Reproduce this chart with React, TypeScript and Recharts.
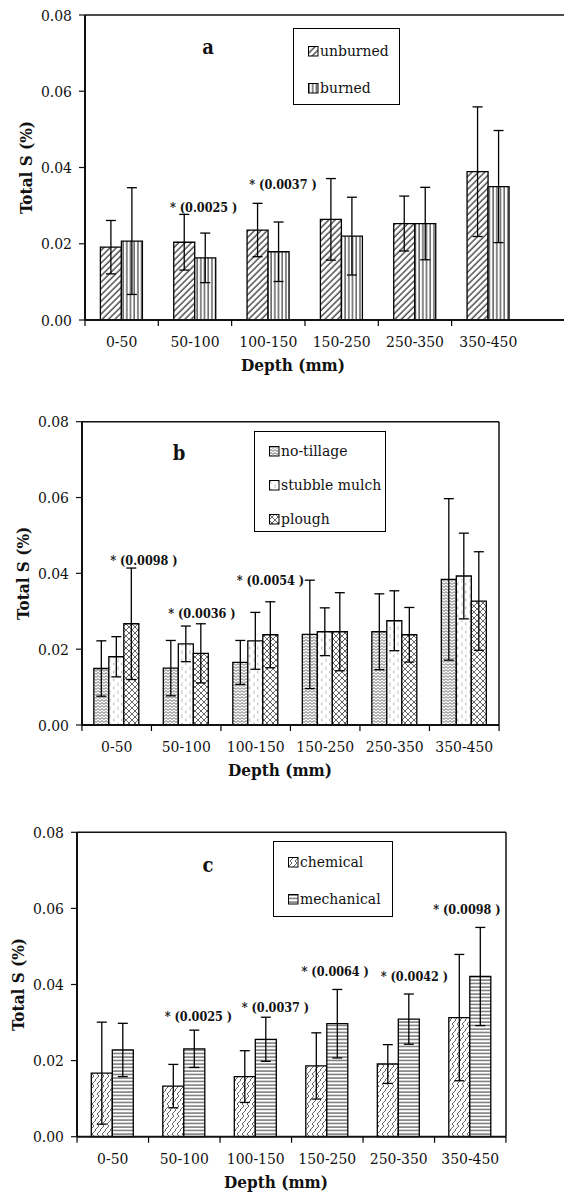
import React from "react";
import {
  BarChart,
  Bar,
  XAxis,
  YAxis,
  ErrorBar,
  ReferenceLine,
  ReferenceDot,
  Legend,
} from "recharts";

const depths = ["0-50", "50-100", "100-150", "150-250", "250-350", "350-450"];
const yTicks = [0, 0.02, 0.04, 0.06, 0.08];

// panel a
const unburned = [0.0191, 0.0204, 0.0236, 0.0264, 0.0253, 0.0389];
const unburnedErr = [0.007, 0.0073, 0.007, 0.0107, 0.0072, 0.017];
const burned = [0.0207, 0.0163, 0.0179, 0.022, 0.0253, 0.035];
const burnedErr = [0.014, 0.0065, 0.0078, 0.0102, 0.0095, 0.0147];

// panel b
const noTillage = [0.0149, 0.015, 0.0165, 0.0239, 0.0246, 0.0384];
const noTillageErr = [0.0073, 0.0073, 0.0058, 0.0143, 0.01, 0.0213];
const stubbleMulch = [0.018, 0.0214, 0.0222, 0.0246, 0.0275, 0.0393];
const stubbleMulchErr = [0.0053, 0.0047, 0.0075, 0.0063, 0.0079, 0.0113];
const plough = [0.0267, 0.0189, 0.0238, 0.0246, 0.0238, 0.0327];
const ploughErr = [0.0147, 0.0078, 0.0087, 0.0103, 0.0072, 0.013];

// panel c
const chemical = [0.0167, 0.0133, 0.0158, 0.0186, 0.0191, 0.0313];
const chemicalErr = [0.0134, 0.0057, 0.0068, 0.0087, 0.0051, 0.0166];
const mechanical = [0.0228, 0.0231, 0.0256, 0.0297, 0.0309, 0.0421];
const mechanicalErr = [0.007, 0.0049, 0.0058, 0.009, 0.0066, 0.0129];

// significance notes (depth, p value, height of the note)
const notesA = [
  { depth: "50-100", p: "0.0025", at: 0.0296 },
  { depth: "100-150", p: "0.0037", at: 0.0354 },
];
const notesB = [
  { depth: "0-50", p: "0.0098", at: 0.0433 },
  { depth: "50-100", p: "0.0036", at: 0.0293 },
  { depth: "100-150", p: "0.0054", at: 0.038 },
];
const notesC = [
  { depth: "50-100", p: "0.0025", at: 0.0315 },
  { depth: "100-150", p: "0.0037", at: 0.0338 },
  { depth: "150-250", p: "0.0064", at: 0.0434 },
  { depth: "250-350", p: "0.0042", at: 0.042 },
  { depth: "350-450", p: "0.0098", at: 0.0596 },
];

// only serif face available in the sandbox
const FONT = '"DejaVu Serif Condensed", "DejaVu Serif", serif';
const TXT = { fontFamily: FONT, fontStretch: "condensed" } as React.CSSProperties;

type Series = { key: string; name: string; values: number[]; errors: number[]; fill: string };

function rowsFor(series: Series[]) {
  return depths.map((d, i) => {
    const row: Record<string, any> = { depth: d };
    series.forEach((s) => {
      row[s.key] = s.values[i];
      row[s.key + "Err"] = s.errors[i];
    });
    return row;
  });
}

function Patterns() {
  return (
    <svg width={0} height={0} style={{ position: "absolute" }}>
      <defs>
        <pattern id="p-diag" patternUnits="userSpaceOnUse" width={4.5} height={4.5} patternTransform="rotate(45)">
          <rect width={4.5} height={4.5} fill="#fff" />
          <line x1={1} y1={0} x2={1} y2={4.5} stroke="#111" strokeWidth={1.1} />
        </pattern>
        <pattern id="p-vert" patternUnits="userSpaceOnUse" width={3.7} height={4}>
          <rect width={3.7} height={4} fill="#fff" />
          <line x1={1} y1={0} x2={1} y2={4} stroke="#111" strokeWidth={1} />
        </pattern>
        <pattern id="p-wave" patternUnits="userSpaceOnUse" width={4} height={3}>
          <rect width={4} height={3} fill="#fff" />
          <path d="M0,2.4 L2,0.6 L4,2.4" fill="none" stroke="#444" strokeWidth={0.8} />
        </pattern>
        <pattern id="p-dots" patternUnits="userSpaceOnUse" width={8} height={8}>
          <rect width={8} height={8} fill="#fff" />
          <path d="M2.5,0.8 L1.2,2 L2.5,3.2" fill="none" stroke="#888" strokeWidth={0.8} />
          <rect x={5.5} y={4.8} width={1} height={1} fill="#888" />
          <rect x={5.5} y={6.8} width={1} height={1} fill="#888" />
        </pattern>
        <pattern id="p-cross" patternUnits="userSpaceOnUse" width={6} height={6}>
          <rect width={6} height={6} fill="#fff" />
          <path d="M0,0 L6,6 M6,0 L0,6" stroke="#555" strokeWidth={0.9} />
        </pattern>
        <pattern id="p-weave" patternUnits="userSpaceOnUse" width={10} height={10}>
          <rect width={10} height={10} fill="#fff" />
          <path d="M0,10 L4,6 L2,4 L6,0 M5,10 L9,6 L7,4 L11,0 M-5,10 L-1,6 L-3,4 L1,0" fill="none" stroke="#555" strokeWidth={0.9} />
        </pattern>
        <pattern id="p-horiz" patternUnits="userSpaceOnUse" width={4} height={3.5}>
          <rect width={4} height={3.5} fill="#fff" />
          <line x1={0} y1={1} x2={4} y2={1} stroke="#333" strokeWidth={1} />
        </pattern>
      </defs>
    </svg>
  );
}

const makeXTick = (half: number, closeRight: boolean) => (props: any) => {
  const { x, y, payload, index } = props;
  const last = closeRight && index === depths.length - 1;
  return (
    <g>
      <line x1={x - half} x2={x - half} y1={y} y2={y + 6} stroke="#000" strokeWidth={1.2} />
      {last && <line x1={x + half} x2={x + half} y1={y} y2={y + 6} stroke="#000" strokeWidth={1.2} />}
      <text x={x} y={y + 27} textAnchor="middle" style={TXT} fontSize={15.5} fill="#111">
        {payload.value}
      </text>
    </g>
  );
};

function LegendBox({ series, width, height, gap, first }: { series: Series[]; width: number; height: number; gap: number; first: number }) {
  return (
    <div
      style={{
        width,
        height,
        boxSizing: "border-box",
        border: "1.3px solid #000",
        background: "#fff",
        position: "relative",
      }}
    >
      {series.map((s, i) => (
        <div
          key={s.key}
          style={{
            ...TXT,
            position: "absolute",
            left: 14,
            top: first + i * gap - 10,
            height: 20,
            display: "flex",
            alignItems: "center",
            fontSize: 15.5,
            color: "#111",
            whiteSpace: "nowrap",
          }}
        >
          <svg width={11} height={11} style={{ marginRight: 1 }}>
            <rect x={0.5} y={0.5} width={9.5} height={9.5} fill={s.fill} stroke="#000" strokeWidth={1} />
          </svg>
          {s.name}
        </div>
      ))}
    </div>
  );
}

type PanelProps = {
  letter: string;
  series: Series[];
  notes: { depth: string; p: string; at: number }[];
  noteShift: number[];
  top: number;
  height: number;
  margin: { top: number; right: number; bottom: number; left: number };
  yWidth: number;
  xHeight: number;
  xPadRight: number;
  half: number;
  gap: string;
  frameRight: boolean;
  legend: { left: number; top: number; width: number; height: number; gap: number; first: number };
  letterPos: { left: number; top: number };
  depthX: number;
};

function Panel(p: PanelProps) {
  const data = rowsFor(p.series);
  const XTick = makeXTick(p.half, p.frameRight);
  return (
    <div style={{ position: "absolute", left: 0, top: p.top, width: 564, height: p.height }}>
      <BarChart
        width={564}
        height={p.height}
        data={data}
        margin={p.margin}
        barCategoryGap={p.gap}
        barGap={0}
      >
        <XAxis
          dataKey="depth"
          tick={<XTick />}
          tickLine={false}
          tickSize={0}
          tickMargin={0}
          height={p.xHeight}
          padding={{ left: 0, right: p.xPadRight }}
          axisLine={{ stroke: "#111", strokeWidth: 2 }}
          interval={0}
          label={{
            content: (lp: any) => {
              const vb = lp.viewBox || { x: 0, y: 0 };
              return (
                <text
                  x={vb.x + p.depthX}
                  y={vb.y + 51}
                  textAnchor="middle"
                  style={TXT}
                  fontWeight="bold"
                  fontSize={17}
                  fill="#111"
                >
                  Depth (mm)
                </text>
              );
            },
          }}
        />
        <YAxis
          domain={[0, 0.08]}
          ticks={yTicks}
          width={p.yWidth}
          tickFormatter={(v: number) => v.toFixed(2)}
          tickSize={6}
          tickMargin={7}
          tickLine={{ stroke: "#111", strokeWidth: 1.2 }}
          axisLine={{ stroke: "#111", strokeWidth: 2 }}
          tick={{ style: TXT, fontSize: 15.5, fill: "#111" }}
          label={{
            content: (lp: any) => {
              const vb = lp.viewBox || { x: 0, y: 0, width: 0, height: 0 };
              const cx = vb.x + vb.width - 59;
              const cy = vb.y + vb.height / 2;
              return (
                <text
                  x={cx}
                  y={cy}
                  transform={`rotate(-90 ${cx} ${cy})`}
                  textAnchor="middle"
                  dominantBaseline="central"
                  style={TXT}
                  fontWeight="bold"
                  fontSize={17}
                  fill="#111"
                >
                  Total S (%)
                </text>
              );
            },
          }}
        />
        <ReferenceLine y={0.08} stroke="#111" strokeWidth={1.5} ifOverflow="visible" />
        {p.frameRight && (
          <ReferenceLine x="350-450" position="end" stroke="#111" strokeWidth={1.5} ifOverflow="visible" />
        )}
        {p.series.map((s) => (
          <Bar
            key={s.key}
            dataKey={s.key}
            name={s.name}
            fill={s.fill}
            stroke="#000"
            strokeWidth={1.3}
            isAnimationActive={false}
          >
            <ErrorBar
              dataKey={s.key + "Err"}
              width={5}
              stroke="#000"
              strokeWidth={1.3}
              direction="y"
              isAnimationActive={false}
            />
          </Bar>
        ))}
        {p.notes.map((n, i) => (
          <ReferenceDot
            key={n.depth + n.p}
            x={n.depth}
            y={n.at}
            r={0}
            ifOverflow="visible"
            shape={(sp: any) => (
              <text
                x={sp.cx + p.noteShift[i]}
                y={sp.cy}
                dy="0.35em"
                style={TXT}
                fontWeight="bold"
                fontSize={12.5}
                fill="#111"
              >
                {`* (${n.p} )`}
              </text>
            )}
          />
        ))}
        <Legend
          layout="vertical"
          align="center"
          verticalAlign="middle"
          wrapperStyle={{
            position: "absolute",
            left: p.legend.left,
            top: p.legend.top,
            width: p.legend.width,
            height: p.legend.height,
          }}
          content={() => (
            <LegendBox
              series={p.series}
              width={p.legend.width}
              height={p.legend.height}
              gap={p.legend.gap}
              first={p.legend.first}
            />
          )}
        />
      </BarChart>
      <div
        style={{
          ...TXT,
          position: "absolute",
          left: p.letterPos.left,
          top: p.letterPos.top,
          transform: "translate(-50%, -50%)",
          fontWeight: "bold",
          fontSize: 20,
          color: "#111",
        }}
      >
        {p.letter}
      </div>
    </div>
  );
}

const seriesA: Series[] = [
  { key: "unburned", name: "unburned", values: unburned, errors: unburnedErr, fill: "url(#p-diag)" },
  { key: "burned", name: "burned", values: burned, errors: burnedErr, fill: "url(#p-vert)" },
];
const seriesB: Series[] = [
  { key: "noTillage", name: "no-tillage", values: noTillage, errors: noTillageErr, fill: "url(#p-wave)" },
  { key: "stubbleMulch", name: "stubble mulch", values: stubbleMulch, errors: stubbleMulchErr, fill: "url(#p-dots)" },
  { key: "plough", name: "plough", values: plough, errors: ploughErr, fill: "url(#p-cross)" },
];
const seriesC: Series[] = [
  { key: "chemical", name: "chemical", values: chemical, errors: chemicalErr, fill: "url(#p-weave)" },
  { key: "mechanical", name: "mechanical", values: mechanical, errors: mechanicalErr, fill: "url(#p-horiz)" },
];

export default function App() {
  return (
    <div style={{ position: "absolute", left: 0, top: 0, width: 564, height: 1195, background: "#fff" }}>
      <Patterns />
      <Panel
        letter="a"
        series={seriesA}
        notes={notesA}
        noteShift={[-25, -19]}
        top={0}
        height={380}
        margin={{ top: 15, right: 0, bottom: 0, left: 0 }}
        yWidth={85}
        xHeight={60}
        xPadRight={39}
        half={36.7}
        gap="21%"
        frameRight={false}
        legend={{ left: 293, top: 28, width: 107, height: 77, gap: 37, first: 22 }}
        letterPos={{ left: 208, top: 47 }}
        depthX={208}
      />
      <Panel
        letter="b"
        series={seriesB}
        notes={notesB}
        noteShift={[-6.5, -18, -19]}
        top={390}
        height={400}
        margin={{ top: 31.7, right: 65, bottom: 0, left: 0 }}
        yWidth={82}
        xHeight={65}
        xPadRight={0}
        half={34.8}
        gap="17%"
        frameRight={true}
        legend={{ left: 254, top: 41, width: 132, height: 101, gap: 34, first: 19 }}
        letterPos={{ left: 179, top: 63 }}
        depthX={198}
      />
      <Panel
        letter="c"
        series={seriesC}
        notes={notesC}
        noteShift={[-19.5, -14, -25.7, -18, -37]}
        top={790}
        height={405}
        margin={{ top: 42.3, right: 58, bottom: 0, left: 0 }}
        yWidth={77}
        xHeight={58.3}
        xPadRight={0}
        half={35.7}
        gap="20%"
        frameRight={true}
        legend={{ left: 273, top: 51, width: 120, height: 76, gap: 37, first: 20 }}
        letterPos={{ left: 208, top: 75 }}
        depthX={199}
      />
    </div>
  );
}
